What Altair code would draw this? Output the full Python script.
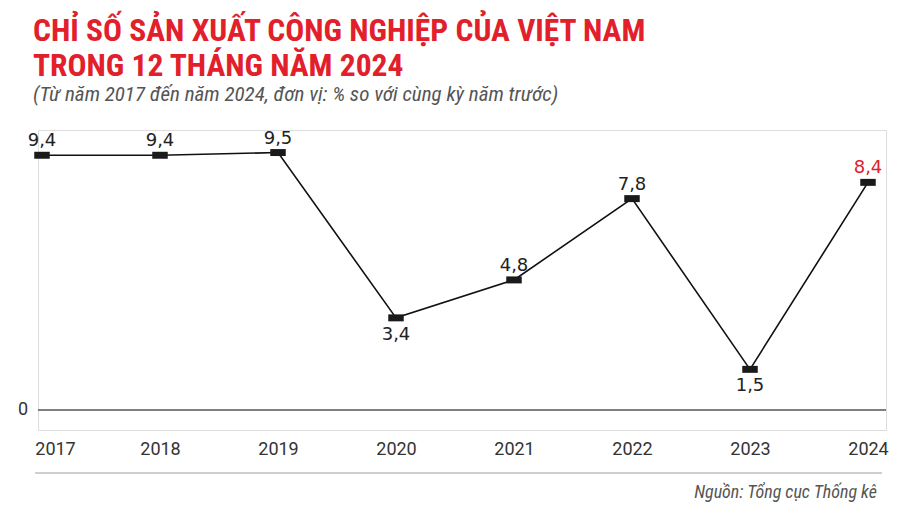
import altair as alt
import pandas as pd

years = [2017, 2018, 2019, 2020, 2021, 2022, 2023, 2024]
values = [9.4, 9.4, 9.5, 3.4, 4.8, 7.8, 1.5, 8.4]
labels = ["9,4", "9,4", "9,5", "3,4", "4,8", "7,8", "1,5", "8,4"]
label_pos = ["above", "above", "above", "below", "above", "above", "below", "above"]
highlight = [False, False, False, False, False, False, False, True]

title_lines = ["CHỈ SỐ SẢN XUẤT CÔNG NGHIỆP CỦA VIỆT NAM", "TRONG 12 THÁNG NĂM 2024"]
subtitle = "(Từ năm 2017 đến năm 2024, đơn vị: % so với cùng kỳ năm trước)"
source = "Nguồn: Tổng cục Thống kê"

df = pd.DataFrame({"year": years, "value": values, "label": labels,
                   "pos": label_pos, "hl": highlight})

W, H = 848, 300
RED = "#e2202b"
COND = "Roboto Condensed, Liberation Sans Narrow, Roboto, sans-serif"

xs = alt.X("year:Q", scale=alt.Scale(domain=[2017, 2024], range=[4, 830]),
           axis=alt.Axis(values=years, format="d", title=None, domain=False, ticks=False,
                         grid=False, labelFont="Roboto", labelFontSize=18, labelColor="#333",
                         labelFontWeight="normal", labelPadding=10, labelFlush=False,
                         labelOffset={"condition": {"test": "datum.value == 2017", "value": 13},
                                      "value": 0}))
ys = alt.Y("value:Q", scale=alt.Scale(domain=[0, 10], range=[280, 9]), axis=None)

base = alt.Chart(df)

zero_rule = alt.Chart(pd.DataFrame({"v": [0]})).mark_rule(color="#555", strokeWidth=1.5).encode(
    y=alt.Y("v:Q", scale=alt.Scale(domain=[0, 10], range=[280, 9]), axis=None),
    x=alt.value(0), x2=alt.value(W))
zero_lab = alt.Chart(pd.DataFrame({"v": [0], "t": ["0"]})).mark_text(
    font="Roboto", fontSize=18, color="#333", align="center", baseline="middle").encode(
    y=alt.Y("v:Q", scale=alt.Scale(domain=[0, 10], range=[280, 9]), axis=None),
    x=alt.value(-15), text="t:N")

line = base.mark_line(color="#111", strokeWidth=1.6).encode(x=xs, y=ys)
pts = base.mark_point(shape="M-1,-0.45L1,-0.45L1,0.45L-1,0.45Z", size=240, filled=True,
                      color="#1a1a1a", opacity=1).encode(x=xs, y=ys)

lab_color = alt.condition("datum.hl", alt.value(RED), alt.value("#222"))
above = base.transform_filter("datum.pos == 'above'").mark_text(
    font="DejaVu Sans", fontSize=18, baseline="alphabetic", dy=-9).encode(
    x=xs, y=ys, text="label:N", color=lab_color)
below = base.transform_filter("datum.pos == 'below'").mark_text(
    font="DejaVu Sans", fontSize=18, baseline="alphabetic", dy=22).encode(
    x=xs, y=ys, text="label:N", color=lab_color)

t1 = alt.Chart(pd.DataFrame({"t": [title_lines[0]]})).mark_text(
    font=COND, fontSize=31.5, fontWeight="bold", color=RED, align="left", baseline="alphabetic").encode(
    text="t:N", x=alt.value(-5), y=alt.value(-89))
t2 = alt.Chart(pd.DataFrame({"t": [title_lines[1]]})).mark_text(
    font=COND, fontSize=31.5, fontWeight="bold", color=RED, align="left", baseline="alphabetic").encode(
    text="t:N", x=alt.value(-5), y=alt.value(-54))
st = alt.Chart(pd.DataFrame({"t": [subtitle]})).mark_text(
    font=COND, fontSize=21, fontStyle="italic", color="#555", align="left", baseline="alphabetic").encode(
    text="t:N", x=alt.value(-5), y=alt.value(-29))
src = alt.Chart(pd.DataFrame({"t": [source]})).mark_text(
    font=COND, fontSize=18, fontStyle="italic", color="#555", align="right", baseline="alphabetic").encode(
    text="t:N", x=alt.value(839), y=alt.value(368))
sep = alt.Chart(pd.DataFrame({"t": [0]})).mark_rule(color="#cfcfcf", strokeWidth=2).encode(
    x=alt.value(-3), x2=alt.value(844), y=alt.value(343))

chart = alt.layer(sep, zero_rule, zero_lab, line, pts, above, below, t1, t2, st, src).properties(
    width=W, height=H,
    autosize=alt.AutoSizeParams(type="none"),
    padding={"left": 30, "top": 122, "right": 6, "bottom": 75},
).configure_view(stroke=None).configure(background="white")

chart.save("out.html", embed_options={"renderer": "svg", "actions": False})
